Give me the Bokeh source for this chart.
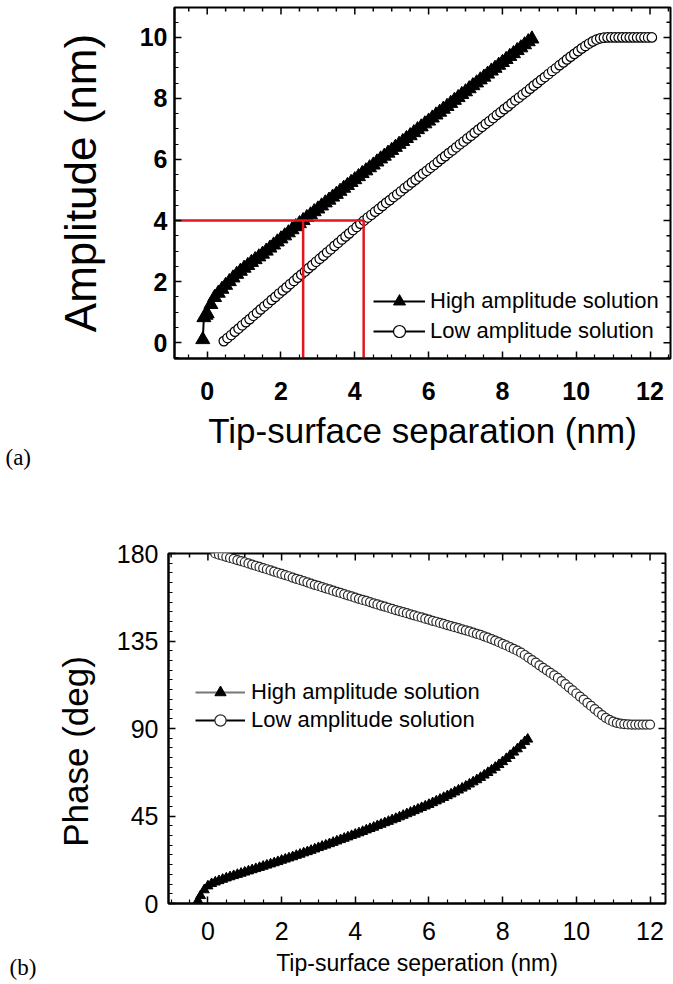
from math import pi
from bokeh.plotting import figure
from bokeh.models import Range1d, Label, Legend, LegendItem, FixedTicker
from bokeh.layouts import column, row
from bokeh.embed import file_html
from bokeh.resources import INLINE

# ---------------- data ----------------
# (a) amplitude vs tip-surface separation
amp_high_x = [-0.12, -0.09, -0.03, 0.0, 0.1, 0.2, 0.3, 0.4, 0.5, 0.6, 0.7, 0.8, 0.9,
              1.0, 1.1, 1.2, 1.3, 1.4, 1.5, 1.6, 1.7, 1.8, 1.9, 2.0, 2.1, 2.2, 2.3,
              2.4, 2.5, 2.6, 2.7, 2.8, 2.9, 3.0, 3.1, 3.2, 3.3, 3.4, 3.5, 3.6, 3.7,
              3.8, 3.9, 4.0, 4.1, 4.2, 4.3, 4.4, 4.5, 4.6, 4.7, 4.8, 4.9, 5.0, 5.1,
              5.2, 5.3, 5.4, 5.5, 5.6, 5.7, 5.8, 5.9, 6.0, 6.1, 6.2, 6.3, 6.4, 6.5,
              6.6, 6.7, 6.8, 6.9, 7.0, 7.1, 7.2, 7.3, 7.4, 7.5, 7.6, 7.7, 7.8, 7.9,
              8.0, 8.1, 8.2, 8.3, 8.4, 8.5, 8.6, 8.7, 8.8]
amp_high_y = [0.10, 0.82, 0.90, 0.95, 1.25, 1.48, 1.62, 1.75, 1.88, 2.00, 2.12, 2.24, 2.34,
              2.44, 2.53, 2.63, 2.72, 2.81, 2.90, 3.00, 3.10, 3.20, 3.30, 3.40, 3.50, 3.60, 3.70,
              3.80, 3.90, 4.00, 4.10, 4.19, 4.29, 4.38, 4.48, 4.58, 4.67, 4.77, 4.86, 4.96, 5.06,
              5.15, 5.25, 5.34, 5.44, 5.54, 5.63, 5.73, 5.82, 5.92, 6.02, 6.11, 6.21, 6.30, 6.40,
              6.50, 6.59, 6.69, 6.78, 6.88, 6.98, 7.07, 7.17, 7.26, 7.36, 7.46, 7.55, 7.65, 7.74,
              7.84, 7.94, 8.03, 8.13, 8.22, 8.32, 8.42, 8.51, 8.61, 8.70, 8.80, 8.90, 8.99, 9.09,
              9.18, 9.28, 9.38, 9.47, 9.57, 9.66, 9.76, 9.86, 9.95]

amp_low_x = [0.45, 0.55, 0.65, 0.75, 0.85, 0.95, 1.05, 1.15, 1.25, 1.35, 1.45, 1.55, 1.65,
             1.75, 1.85, 1.95, 2.05, 2.15, 2.25, 2.35, 2.45, 2.55, 2.65, 2.75, 2.85, 2.95,
             3.05, 3.15, 3.25, 3.35, 3.45, 3.55, 3.65, 3.75, 3.85, 3.95, 4.05, 4.15, 4.25,
             4.35, 4.45, 4.55, 4.65, 4.75, 4.85, 4.95, 5.05, 5.15, 5.25, 5.35, 5.45, 5.55,
             5.65, 5.75, 5.85, 5.95, 6.05, 6.15, 6.25, 6.35, 6.45, 6.55, 6.65, 6.75, 6.85,
             6.95, 7.05, 7.15, 7.25, 7.35, 7.45, 7.55, 7.65, 7.75, 7.85, 7.95, 8.05, 8.15,
             8.25, 8.35, 8.45, 8.55, 8.65, 8.75, 8.85, 8.95, 9.05, 9.15, 9.25, 9.35, 9.45,
             9.55, 9.65, 9.75, 9.85, 9.95, 10.05, 10.15, 10.25, 10.35, 10.45, 10.55, 10.65,
             10.75, 10.85, 10.95, 11.05, 11.15, 11.25, 11.35, 11.45, 11.55, 11.65, 11.75,
             11.85, 11.95, 12.05]
amp_low_y = [0.05, 0.15, 0.25, 0.36, 0.46, 0.57, 0.67, 0.77, 0.88, 0.98, 1.09, 1.19, 1.29,
             1.40, 1.50, 1.61, 1.71, 1.81, 1.92, 2.02, 2.13, 2.23, 2.33, 2.44, 2.54, 2.65,
             2.75, 2.85, 2.96, 3.06, 3.17, 3.27, 3.38, 3.48, 3.58, 3.69, 3.79, 3.90, 4.00,
             4.10, 4.19, 4.29, 4.38, 4.48, 4.58, 4.67, 4.77, 4.86, 4.96, 5.06, 5.15, 5.25,
             5.34, 5.44, 5.54, 5.63, 5.73, 5.82, 5.92, 6.02, 6.11, 6.21, 6.30, 6.40, 6.50,
             6.59, 6.69, 6.78, 6.88, 6.98, 7.07, 7.17, 7.26, 7.36, 7.46, 7.55, 7.65, 7.74,
             7.84, 7.94, 8.03, 8.13, 8.22, 8.32, 8.42, 8.51, 8.61, 8.70, 8.80, 8.90, 8.99,
             9.09, 9.18, 9.28, 9.37, 9.46, 9.55, 9.64, 9.72, 9.80, 9.87, 9.93, 9.97,
             9.99, 10.00, 10.00, 10.00, 10.00, 10.00, 10.00, 10.00, 10.00, 10.00, 10.00,
             10.00, 10.00, 10.00]

# red guide lines: amplitude level and the two separations where it is reached
red_amp = 4.0
red_sep = [2.6, 4.24]

# (b) phase vs tip-surface separation
ph_high_x = [-0.27, -0.2, -0.1, 0.0, 0.1, 0.2, 0.3, 0.4, 0.5, 0.6, 0.7, 0.8, 0.9,
             1.0, 1.1, 1.2, 1.3, 1.4, 1.5, 1.6, 1.7, 1.8, 1.9, 2.0, 2.1, 2.2, 2.3,
             2.4, 2.5, 2.6, 2.7, 2.8, 2.9, 3.0, 3.1, 3.2, 3.3, 3.4, 3.5, 3.6, 3.7,
             3.8, 3.9, 4.0, 4.1, 4.2, 4.3, 4.4, 4.5, 4.6, 4.7, 4.8, 4.9, 5.0, 5.1,
             5.2, 5.3, 5.4, 5.5, 5.6, 5.7, 5.8, 5.9, 6.0, 6.1, 6.2, 6.3, 6.4, 6.5,
             6.6, 6.7, 6.8, 6.9, 7.0, 7.1, 7.2, 7.3, 7.4, 7.5, 7.6, 7.7, 7.8, 7.9,
             8.0, 8.1, 8.2, 8.3, 8.4, 8.5, 8.6, 8.68]
ph_high_y = [1.5, 4.0, 7.0, 9.0, 10.2, 11.0, 11.7, 12.4, 13.1, 13.7, 14.3, 14.9, 15.5,
             16.1, 16.7, 17.3, 17.9, 18.5, 19.1, 19.7, 20.3, 20.9, 21.5, 22.2, 22.8, 23.4, 24.0,
             24.7, 25.3, 26.0, 26.6, 27.3, 28.0, 28.7, 29.4, 30.0, 30.7, 31.4, 32.1, 32.8, 33.5,
             34.2, 34.9, 35.6, 36.3, 37.0, 37.8, 38.5, 39.2, 40.0, 40.7, 41.5, 42.2, 43.0, 43.7,
             44.5, 45.3, 46.1, 46.9, 47.7, 48.5, 49.3, 50.1, 50.9, 51.8, 52.7, 53.6, 54.5, 55.4,
             56.3, 57.3, 58.3, 59.3, 60.3, 61.4, 62.5, 63.6, 64.8, 66.0, 67.3, 68.6, 70.0, 71.4,
             72.9, 74.5, 76.1, 77.8, 79.5, 81.3, 83.2, 84.5]

ph_low_x = [0.2, 0.3, 0.4, 0.5, 0.6, 0.7, 0.8, 0.9, 1.0, 1.1, 1.2, 1.3, 1.4, 1.5, 1.6,
            1.7, 1.8, 1.9, 2.0, 2.1, 2.2, 2.3, 2.4, 2.5, 2.6, 2.7, 2.8, 2.9, 3.0, 3.1,
            3.2, 3.3, 3.4, 3.5, 3.6, 3.7, 3.8, 3.9, 4.0, 4.1, 4.2, 4.3, 4.4, 4.5, 4.6,
            4.7, 4.8, 4.9, 5.0, 5.1, 5.2, 5.3, 5.4, 5.5, 5.6, 5.7, 5.8, 5.9, 6.0, 6.1,
            6.2, 6.3, 6.4, 6.5, 6.6, 6.7, 6.8, 6.9, 7.0, 7.1, 7.2, 7.3, 7.4, 7.5, 7.6,
            7.7, 7.8, 7.9, 8.0, 8.1, 8.2, 8.3, 8.4, 8.5, 8.6, 8.7, 8.8, 8.9, 9.0, 9.1,
            9.2, 9.3, 9.4, 9.5, 9.6, 9.7, 9.8, 9.9, 10.0, 10.1, 10.2, 10.3, 10.4, 10.5,
            10.6, 10.7, 10.8, 10.9, 11.0, 11.1, 11.2, 11.3, 11.4, 11.5, 11.6, 11.7, 11.8,
            11.9, 12.0]
ph_low_y = [180.0, 179.4, 178.9, 178.3, 177.7, 177.2, 176.6, 176.1, 175.5, 174.9, 174.3,
            173.7, 173.1, 172.5, 171.9, 171.3, 170.7, 170.1, 169.5, 168.9, 168.3, 167.6,
            167.0, 166.4, 165.8, 165.2, 164.5, 163.9, 163.3, 162.7, 162.1, 161.5, 160.9,
            160.3, 159.7, 159.1, 158.5, 157.9, 157.3, 156.7, 156.1, 155.6, 155.0, 154.4,
            153.8, 153.2, 152.7, 152.1, 151.5, 150.9, 150.4, 149.8, 149.3, 148.7, 148.2,
            147.6, 147.1, 146.5, 146.0, 145.4, 144.9, 144.3, 143.8, 143.2, 142.7, 142.1,
            141.6, 141.0, 140.5, 139.9, 139.3, 138.7, 138.1, 137.4, 136.7, 136.0, 135.2,
            134.4, 133.5, 132.7, 131.8, 130.9, 130.0, 129.0, 127.8, 126.5, 125.2, 123.9,
            122.5, 121.2, 119.9, 118.6, 117.3, 116.0, 114.4, 112.8, 111.2, 109.6, 108.0,
            106.4, 104.8, 103.2, 101.6, 100.0, 98.4, 96.9, 95.5, 94.4, 93.5, 92.9, 92.5,
            92.3, 92.1, 92.0, 92.0, 92.0, 92.0, 92.0, 92.0]

# axes ticks
sep_major = [0, 2, 4, 6, 8, 10, 12]
sep_minor = [v / 2 for v in range(-2, 26) if v % 4]
amp_major = [0, 2, 4, 6, 8, 10]
amp_minor = [v / 2 for v in range(-1, 22) if v % 4]
ph_major = [0, 45, 90, 135, 180]
ph_minor = [v for v in range(5, 180, 5) if v % 45]

legend_labels = ["High amplitude solution", "Low amplitude solution"]
x_label_a = "Tip-surface separation (nm)"
y_label_a = "Amplitude (nm)"
x_label_b = "Tip-surface seperation (nm)"
y_label_b = "Phase (deg)"
panel_tags = ["(a)", "(b)"]

FONT = "Liberation Sans"


def setup(p, xmaj, xmin, ymaj, ymin, bold):
    p.outline_line_color = "black"
    p.outline_line_width = 2
    p.grid.visible = False
    p.background_fill_color = "white"
    p.border_fill_color = "white"
    p.xaxis.ticker = FixedTicker(ticks=xmaj, minor_ticks=xmin)
    p.yaxis.ticker = FixedTicker(ticks=ymaj, minor_ticks=ymin)
    for ax in p.xaxis + p.yaxis:
        ax.axis_line_width = 2
        ax.major_tick_in = 7
        ax.major_tick_out = 0
        ax.minor_tick_in = 4
        ax.minor_tick_out = 0
        ax.major_tick_line_width = 1.5
        ax.minor_tick_line_width = 1.2
        ax.major_label_text_font = FONT
        ax.major_label_text_color = "black"
        ax.major_label_text_font_size = "25px"
        ax.major_label_text_font_style = "bold" if bold else "normal"
        ax.axis_label_text_font = FONT
        ax.axis_label_text_font_style = "normal"
        ax.axis_label_text_color = "black"
    # mirrored inward ticks on the top and right edges (half outside is clipped)
    xs0, xs1 = p.x_range.start, p.x_range.end
    ys0, ys1 = p.y_range.start, p.y_range.end
    for vals, size in ((xmaj, 14), (xmin, 8)):
        v = [t for t in vals if xs0 < t < xs1]
        p.scatter(v, [ys1] * len(v), marker="dash", size=size, angle=pi / 2,
                  line_color="black", line_width=1.5)
    for vals, size in ((ymaj, 14), (ymin, 8)):
        v = [t for t in vals if ys0 < t < ys1]
        p.scatter([xs1] * len(v), v, marker="dash", size=size,
                  line_color="black", line_width=1.5)


def side_figure(width, height):
    f = figure(width=width, height=height, output_backend="svg", toolbar_location=None,
               x_range=Range1d(0, width), y_range=Range1d(0, height),
               x_axis_type=None, y_axis_type=None, frame_align=False,
               min_border_left=0, min_border_right=0, min_border_top=0, min_border_bottom=0)
    f.outline_line_color = None
    f.grid.visible = False
    f.background_fill_color = "white"
    f.border_fill_color = "white"
    return f


# ---------------- (a) ----------------
pa = figure(width=633, height=470, output_backend="svg", toolbar_location=None,
            x_range=Range1d(-0.886, 12.555), y_range=Range1d(-0.52, 10.98), frame_align=False,
            min_border_left=134, min_border_right=3, min_border_top=7, min_border_bottom=112)
setup(pa, sep_major, sep_minor, amp_major, amp_minor, True)
pa.xaxis.axis_label = x_label_a
pa.xaxis.axis_label_text_font_size = "35px"
pa.xaxis.major_label_standoff = 23
pa.xaxis.axis_label_standoff = 8
pa.yaxis.axis_label = y_label_a
pa.yaxis.axis_label_text_font_size = "44px"
pa.yaxis.major_label_standoff = 7
pa.yaxis.axis_label_standoff = 32

l_hi = pa.line(amp_high_x, amp_high_y, line_color="black", line_width=2)
r_hi = pa.scatter(amp_high_x, amp_high_y, marker="triangle", size=14,
                  fill_color="black", line_color="black", line_width=1)
l_lo = pa.line(amp_low_x, amp_low_y, line_color="black", line_width=2)
r_lo = pa.scatter(amp_low_x, amp_low_y, marker="circle", size=9.5,
                  fill_color="white", line_color="black", line_width=1.2)

# red guide lines
pa.segment(x0=[pa.x_range.start], y0=[red_amp], x1=[max(red_sep)], y1=[red_amp],
           line_color="#e3161f", line_width=2.5)
pa.segment(x0=red_sep, y0=[red_amp] * len(red_sep), x1=red_sep,
           y1=[pa.y_range.start] * len(red_sep), line_color="#e3161f", line_width=2.5)

leg_a = Legend(items=[LegendItem(label=legend_labels[0], renderers=[l_hi, r_hi]),
                      LegendItem(label=legend_labels[1], renderers=[l_lo, r_lo])],
               location=(199, 12), glyph_width=52, glyph_height=30, label_height=30,
               spacing=0, padding=0, margin=0, label_standoff=5,
               label_text_font=FONT, label_text_font_size="22px", label_text_color="black",
               border_line_alpha=0, background_fill_alpha=0)
pa.add_layout(leg_a)

fa = side_figure(40, 470)
fa.add_layout(Label(x=5, y=470 - 457, text=panel_tags[0], text_font="Liberation Serif",
                    text_font_size="23px", text_color="black",
                    text_align="left", text_baseline="middle"))

# ---------------- (b) ----------------
pb = figure(width=573, height=514, output_backend="svg", toolbar_location=None,
            x_range=Range1d(-1.07, 12.42), y_range=Range1d(0, 180), frame_align=False,
            min_border_left=68, min_border_right=8, min_border_top=83, min_border_bottom=81)
setup(pb, sep_major, sep_minor, ph_major, ph_minor, False)
pb.xaxis.axis_label = x_label_b
pb.xaxis.axis_label_text_font_size = "23px"
pb.xaxis.major_label_standoff = 18
pb.xaxis.axis_label_standoff = 7
pb.yaxis.major_label_standoff = 10

lb_hi = pb.line(ph_high_x, ph_high_y, line_color="#777777", line_width=2)
lb_lo = pb.line(ph_low_x, ph_low_y, line_color="black", line_width=2)
rb_lo = pb.scatter(ph_low_x, ph_low_y, marker="circle", size=9,
                   fill_color="white", line_color="#2a2a2a", line_width=1.2)
rb_hi = pb.scatter(ph_high_x, ph_high_y, marker="triangle", size=10,
                   fill_color="black", line_color="black", line_width=1)

leg_b = Legend(items=[LegendItem(label=legend_labels[0], renderers=[lb_hi, rb_hi]),
                      LegendItem(label=legend_labels[1], renderers=[lb_lo, rb_lo])],
               location=(27, 169), glyph_width=50, glyph_height=28, label_height=28,
               spacing=0, padding=0, margin=0, label_standoff=6,
               label_text_font=FONT, label_text_font_size="22px", label_text_color="black",
               border_line_alpha=0, background_fill_alpha=0)
pb.add_layout(leg_b)

fb = side_figure(100, 514)
fb.add_layout(Label(x=75, y=514 - (751 - 470), text=y_label_b, angle=pi / 2,
                    text_font=FONT, text_font_size="35px", text_color="black",
                    text_align="center", text_baseline="middle"))
fb.add_layout(Label(x=9, y=514 - (967 - 470), text=panel_tags[1], text_font="Liberation Serif",
                    text_font_size="23px", text_color="black",
                    text_align="left", text_baseline="middle"))

layout = column(row(fa, pa, spacing=0), row(fb, pb, spacing=0), spacing=0)
open("out.html", "w").write(file_html(layout, INLINE))
